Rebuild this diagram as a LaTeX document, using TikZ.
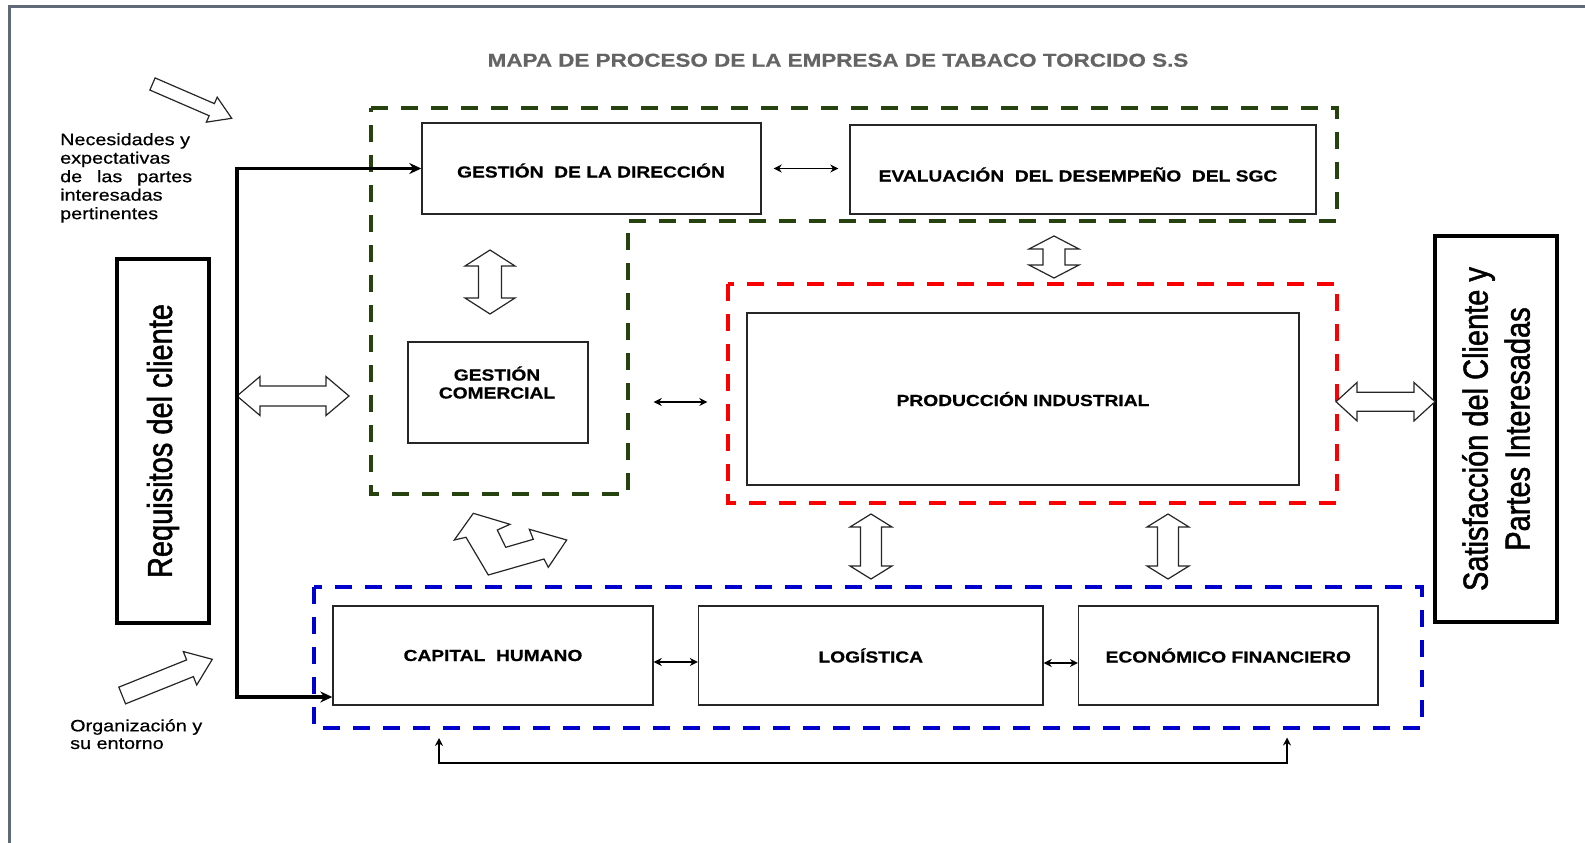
\documentclass[tikz,border=0pt]{standalone}
\usepackage{fontspec}
\setmainfont{Liberation Sans}
\newfontfamily\wf[FakeStretch=1.2,FakeBold=0.6]{Liberation Sans}
\newfontfamily\nf[FakeStretch=0.8333,FakeBold=1.4]{Liberation Sans}
\usetikzlibrary{arrows.meta,calc}
\definecolor{dgreen}{RGB}{38,66,14}
\definecolor{dblue}{RGB}{0,0,205}
\definecolor{dred}{RGB}{250,0,0}
\definecolor{framec}{RGB}{95,105,120}
\definecolor{titlegray}{RGB}{100,100,100}
\newcommand\hset[4]{\pgfmathsetmacro\hax{#1}\pgfmathsetmacro\hay{#2}%
  \pgfmathsetmacro\hL{veclen(#3-#1,#4-#2)}%
  \pgfmathsetmacro\hux{(#3-#1)/\hL}\pgfmathsetmacro\huy{(#4-#2)/\hL}}
\newcommand\hpt[3]{\coordinate (#1) at ({\hax+(#2)*\hux-(#3)*\huy},{\hay+(#2)*\huy+(#3)*\hux});}
% double hollow arrow: x1 y1 x2 y2 shafthalf headhalf headlen
\newcommand\hdouble[7]{\hset{#1}{#2}{#3}{#4}%
  \hpt{q1}{0}{0}\hpt{q2}{#7}{#6}\hpt{q3}{#7}{#5}\hpt{q4}{\hL-#7}{#5}\hpt{q5}{\hL-#7}{#6}%
  \hpt{q6}{\hL}{0}\hpt{q7}{\hL-#7}{-#6}\hpt{q8}{\hL-#7}{-#5}\hpt{q9}{#7}{-#5}\hpt{q10}{#7}{-#6}%
  \draw[hollow] (q1)--(q2)--(q3)--(q4)--(q5)--(q6)--(q7)--(q8)--(q9)--(q10)--cycle;}
% single hollow arrow
\newcommand\hsingle[7]{\hset{#1}{#2}{#3}{#4}%
  \hpt{q1}{0}{#5}\hpt{q2}{\hL-#7}{#5}\hpt{q3}{\hL-#7}{#6}\hpt{q4}{\hL}{0}%
  \hpt{q5}{\hL-#7}{-#6}\hpt{q6}{\hL-#7}{-#5}\hpt{q7}{0}{-#5}%
  \draw[hollow] (q1)--(q2)--(q3)--(q4)--(q5)--(q6)--(q7)--cycle;}
\begin{document}
\begin{tikzpicture}[x=1pt,y=-1pt,
  boxfont/.style={font=\wf\bfseries\fontsize{16}{18}\selectfont},
  box/.style={draw=black!85, line width=1.4pt, fill=white, boxfont, inner sep=0pt, align=center},
  boxtext/.style={boxfont, inner sep=0pt, anchor=base},
  bigbox/.style={draw=black, line width=4.5pt, fill=white, inner sep=0pt, rotate=90, align=center},
  hollow/.style={draw=black!85, line width=1.2pt, fill=white, line join=miter},
  zone/.style={line width=4pt, dash pattern=on 17pt off 13pt},
  sarrow/.style={line width=1.6pt, {Stealth[length=8pt,width=8pt]}-{Stealth[length=8pt,width=8pt]}},
  tarrow/.style={line width=3.3pt, {Stealth[length=12pt,width=11pt]}-{Stealth[length=12pt,width=11pt]}},
]
\useasboundingbox (0,0) rectangle (1585,843);
\fill[white] (0,0) rectangle (1585,843);
\draw[framec, line width=2.5pt] (9.5,843) -- (9.5,6.5) -- (1585,6.5);

% title
\node[anchor=base, inner sep=0pt, text=titlegray, font=\wf\bfseries\fontsize{18.7}{22}\selectfont] (title) at (838,66.7) {MAPA DE PROCESO DE LA EMPRESA DE TABACO TORCIDO S.S};

% zones
\draw[zone, dgreen] (371,108) -- (1337,108) -- (1337,221) -- (628,221) -- (628,494) -- (371,494) -- cycle;
\draw[zone, dred] (728,284) rectangle (1337,503);
\draw[zone, dblue] (314,587) rectangle (1422,728);

% boxes
\node[box, minimum width=339pt, minimum height=91pt] (dir) at (591.5,168.5) {};
\node[boxtext] (dirt) at (591,177.5) {GESTIÓN\ \ DE LA DIRECCIÓN};
\node[box, minimum width=466pt, minimum height=89pt] (eval) at (1083,169.5) {};
\node[boxtext] (evalt) at (1078,181.5) {EVALUACIÓN\ \ DEL DESEMPEÑO\ \ DEL SGC};
\node[box, minimum width=180pt, minimum height=101pt] (com) at (498,392.5) {};
\node[boxtext] (comt) at (497,380.5) {\begin{tabular}[t]{@{}c@{}}GESTIÓN\\COMERCIAL\end{tabular}};
\node[box, minimum width=552pt, minimum height=172pt] (prod) at (1023,399) {PRODUCCIÓN INDUSTRIAL};
\node[box, minimum width=320pt, minimum height=99pt] (cap) at (493,655.5) {CAPITAL\ \ HUMANO};
\node[box, minimum width=344.5pt, minimum height=99pt] (log) at (870.75,655.5) {LOGÍSTICA};
\node[box, minimum width=299.4pt, minimum height=99pt] (eco) at (1228.3,655.5) {ECONÓMICO FINANCIERO};

\node[bigbox, minimum width=364pt, minimum height=92pt, font=\nf\fontsize{34.8}{40}\selectfont] (req) at (163,441) {Requisitos del cliente};
\node[bigbox, minimum width=386pt, minimum height=122pt, font=\nf\fontsize{34.8}{42}\selectfont] (sat) at (1496,429) {Satisfacción del Cliente y\\Partes Interesadas};

% side texts
\node[anchor=north west, inner sep=0pt, text width=133pt, align=left, font=\wf\fontsize{16.5}{18.5}\selectfont] (nec) at (60,133) {Necesidades y\\expectativas\\\makebox[132pt]{de\hfill las\hfill partes}\\interesadas\\pertinentes};
\node[anchor=north west, inner sep=0pt, align=left, font=\wf\fontsize{16.5}{17.6}\selectfont] (org) at (70,719) {Organización y\\su entorno};

% hollow arrows
\hsingle{152.5}{84}{231.7}{118.3}{6.6}{13.6}{21.7}
\hsingle{122.2}{695.5}{212.3}{659.3}{9}{18}{24}
\hdouble{237}{396}{349}{396}{10}{19.5}{23}
\hdouble{490}{250}{490}{314}{11.5}{25}{16}
\hdouble{1054}{236}{1054}{278}{11}{25}{13}
\hdouble{871}{514}{871}{579}{10.5}{21}{13}
\hdouble{1168}{514}{1168}{579}{10.5}{21}{13}
\hdouble{1336}{401.7}{1435}{401.7}{9.5}{19.2}{21}
\draw[hollow] (473.3,513.3) -- (510,524.3) -- (497.3,530) -- (505.7,547.3) -- (533.3,539.3) -- (529.3,529.3) -- (566.7,540) -- (548.3,567.3) -- (544,559) -- (488.3,575) -- (466,537.3) -- (454.3,540) -- cycle;

% connectors
\draw[sarrow] ([shift={(12,0)}]dir.east) -- ([shift={(-11,-1)}]eval.west);
\draw[sarrow] ([shift={(65,9.5)}]com.east) -- ([shift={(-39,3)}]prod.west);
\draw[sarrow] ([shift={(0,6.5)}]cap.east) -- ([shift={(0,6.5)}]log.west);
\draw[sarrow] ([shift={(0,7.5)}]log.east) -- ([shift={(0,7.5)}]eco.west);
\coordinate (bl) at (439,738);
\coordinate (br) at (1287,737.5);
\coordinate (bm1) at (439,763);
\coordinate (bm2) at (1287,763);
\draw[sarrow, line width=1.4pt] (bl) -- (bm1) -- (bm2) -- (br);
\coordinate (lt) at (237,168.5);
\coordinate (lb) at (237,697);
\draw[tarrow, line join=miter] (dir.west) -- (lt) -- (lb) -- (lb -| cap.west);
\end{tikzpicture}
\end{document}
